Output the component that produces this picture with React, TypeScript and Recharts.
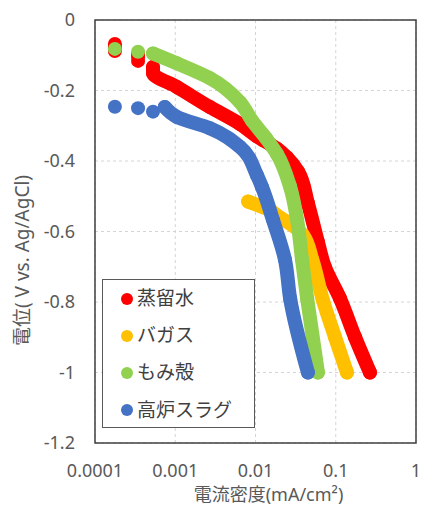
import React from 'react'
import {
  ScatterChart,
  Scatter,
  XAxis,
  YAxis,
  CartesianGrid,
  Legend,
  ReferenceArea,
} from 'recharts'

type Pt = [number, number]

// 蒸留水 (red) – separate dots first, then the dense run
const distilledHead: Pt[] = [
  [0.000177, -0.068], [0.000177, -0.075], [0.000177, -0.082], [0.000177, -0.088],
  [0.000344, -0.097], [0.000344, -0.105], [0.000344, -0.116],
]
const distilledBody: Pt[] = [
  [0.000528, -0.133], [0.000528, -0.142], [0.000528, -0.15], [0.00105, -0.19],
  [0.0027, -0.247], [0.0064, -0.295], [0.0104, -0.33], [0.0185, -0.365],
  [0.0247, -0.39], [0.034, -0.43], [0.045, -0.52], [0.06, -0.63],
  [0.073, -0.7], [0.113, -0.79], [0.174, -0.9], [0.267, -1.0],
]

// バガス (yellow)
const bagasseBody: Pt[] = [
  [0.0081, -0.515], [0.0152, -0.54], [0.02, -0.56], [0.03, -0.585],
  [0.039, -0.61], [0.051, -0.68], [0.069, -0.794], [0.098, -0.9], [0.138, -1.0],
]

// もみ殻 (green)
const huskHead: Pt[] = [[0.000177, -0.082], [0.000344, -0.09]]
const huskBody: Pt[] = [
  [0.000528, -0.095], [0.00105, -0.123], [0.0027, -0.165], [0.0064, -0.233],
  [0.009, -0.285], [0.0135, -0.335], [0.0185, -0.38], [0.027, -0.473],
  [0.033, -0.567], [0.038, -0.68], [0.044, -0.79], [0.06, -1.0],
]

// 高炉スラグ (blue)
const slagHead: Pt[] = [[0.000177, -0.246], [0.000344, -0.25], [0.000528, -0.26]]
const slagBody: Pt[] = [
  [0.00074, -0.247], [0.00105, -0.275], [0.0027, -0.307], [0.0064, -0.36],
  [0.0104, -0.44], [0.012, -0.473], [0.0165, -0.567], [0.0233, -0.68],
  [0.027, -0.79], [0.045, -1.0],
]

const xTicks = [0.0001, 0.001, 0.01, 0.1, 1]
const yTicks = [0, -0.2, -0.4, -0.6, -0.8, -1, -1.2]

const series = [
  { name: '蒸留水', color: '#FF0000', head: distilledHead, body: distilledBody },
  { name: 'バガス', color: '#FFC000', head: [] as Pt[], body: bagasseBody },
  { name: 'もみ殻', color: '#92D050', head: huskHead, body: huskBody },
  { name: '高炉スラグ', color: '#4472C4', head: slagHead, body: slagBody },
]

const FONT = "'Noto Sans', 'Noto Sans CJK JP', sans-serif"
const TEXT = '#595959'

const toRows = (pts: Pt[]) => pts.map(([x, y]) => ({ x, y }))

const dot = (color: string) => (p: any) => (
  <circle cx={p.cx} cy={p.cy} r={7} fill={color} />
)

const XTick = (p: any) => (
  <text
    x={p.x}
    y={p.y + 7}
    textAnchor="middle"
    dominantBaseline="central"
    fontFamily={FONT}
    fontSize={18}
    fill={TEXT}
  >
    {String(p.payload.value)}
  </text>
)

const YTitle = (props: any) => {
  const vb = props.viewBox ?? { x: 0, y: 20, width: 95, height: 423 }
  const cx = vb.x + 22
  const cy = vb.y + vb.height / 2 + 29
  return (
    <text
      x={cx}
      y={cy}
      transform={`rotate(-90, ${cx}, ${cy})`}
      textAnchor="middle"
      dominantBaseline="central"
      fontFamily={FONT}
      fontSize={19}
      fill={TEXT}
    >
      電位( V vs. Ag/AgCl)
    </text>
  )
}

const XTitle = (props: any) => {
  const vb = props.viewBox ?? { x: 95, y: 443, width: 321, height: 63 }
  return (
    <text
      x={vb.x + vb.width / 2 + 13}
      y={vb.y + 51}
      textAnchor="middle"
      dominantBaseline="central"
      fontFamily={FONT}
      fontSize={18}
      fill={TEXT}
    >
      電流密度(mA/cm²)
    </text>
  )
}

const LegendBox = () => (
  <div
    style={{
      width: 153,
      height: 149,
      boxSizing: 'border-box',
      border: '1px solid #595959',
      background: '#fff',
      fontFamily: FONT,
      fontSize: 19,
      color: '#404040',
    }}
  >
    {series.map((s) => (
      <div key={s.name} style={{ display: 'flex', alignItems: 'center', height: 37.2 }}>
        <span
          style={{
            display: 'inline-block',
            width: 12,
            height: 12,
            borderRadius: 6,
            background: s.color,
            marginLeft: 18,
            marginRight: 4,
          }}
        />
        <span style={{ lineHeight: 1 }}>{s.name}</span>
      </div>
    ))}
  </div>
)

export default function App() {
  return (
    <>
      {/* let the chart use the whole 421x506 page */}
      <style>{'body{margin:0} #root{width:421px;height:506px}'}</style>
      <ScatterChart
        width={421}
        height={506}
        margin={{ top: 20, right: 5, bottom: 0, left: 0 }}
      >
        <CartesianGrid stroke="#d4d4d4" strokeDasharray="3 3" />
        <XAxis
          type="number"
          dataKey="x"
          scale="log"
          domain={[0.0001, 1]}
          ticks={xTicks}
          interval={0}
          allowDataOverflow
          height={63}
          axisLine={false}
          tickLine={false}
          tickSize={0}
          tickMargin={20}
          tick={XTick}
          label={{ content: XTitle }}
        />
        <YAxis
          type="number"
          dataKey="y"
          domain={[-1.2, 0]}
          ticks={yTicks}
          interval={0}
          allowDataOverflow
          width={95}
          axisLine={false}
          tickLine={false}
          tickSize={0}
          tickMargin={20}
          tick={{ fontSize: 18, fill: TEXT, fontFamily: FONT }}
          tickFormatter={(v: number) => String(v)}
          label={{ content: YTitle }}
        />
        <ReferenceArea
          x1={0.0001}
          x2={1}
          y1={-1.2}
          y2={0}
          fill="none"
          stroke="#404040"
          strokeWidth={1.5}
          strokeOpacity={1}
        />
        {series.map((s) =>
          s.head.length ? (
            <Scatter
              key={s.name + '-head'}
              name={s.name + '-head'}
              data={toRows(s.head)}
              fill={s.color}
              shape={dot(s.color)}
              legendType="none"
              isAnimationActive={false}
            />
          ) : null
        )}
        {series.map((s) => (
          <Scatter
            key={s.name}
            name={s.name}
            data={toRows(s.body)}
            fill={s.color}
            shape={dot(s.color)}
            line={{ stroke: s.color, strokeWidth: 14, strokeLinecap: 'round', strokeLinejoin: 'round' }}
            lineJointType="monotoneY"
            isAnimationActive={false}
          />
        ))}
        <Legend
          layout="vertical"
          align="center"
          verticalAlign="middle"
          content={LegendBox}
          wrapperStyle={{ left: 102, top: 279, width: 153, height: 149 }}
        />
      </ScatterChart>
    </>
  )
}
